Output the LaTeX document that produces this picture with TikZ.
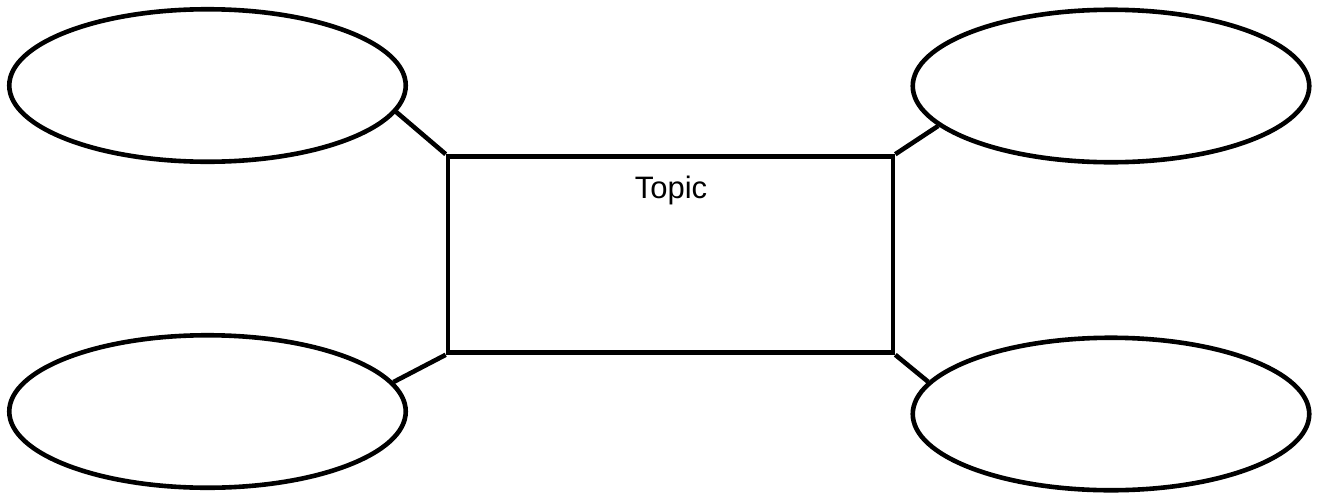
\documentclass[tikz,border=0pt]{standalone}
\usepackage{fontspec}
\setmainfont{Liberation Sans}
\usetikzlibrary{shapes.geometric}
\begin{document}
\begin{tikzpicture}[x=1pt,y=-1pt,
  bubble/.style={draw, ellipse, line width=4.6pt, inner sep=0pt, minimum width=396.5pt, minimum height=152.5pt},
  topicbox/.style={draw, rectangle, line width=4.6pt, inner sep=0pt, minimum width=445pt, minimum height=196pt},
  link/.style={line width=4.6pt},
  lbl/.style={font=\fontsize{31}{36}\selectfont, inner sep=0pt, anchor=base}]
\useasboundingbox (0,0) rectangle (1318,493);
\node[bubble] (tl) at (207.5,85.5) {};
\node[bubble] (tr) at (1111,86) {};
\node[bubble] (bl) at (207.5,411.5) {};
\node[bubble] (br) at (1111,414) {};
\node[topicbox] (topic) at (670.5,254.5) {};
\node[lbl] (topiclabel) at (671,198) {Topic};
\draw[link] (tl.-8) -- (topic.north west);
\draw[link] (tr.193.5) -- (topic.north east);
\draw[link] (bl.9.6) -- (topic.south west);
\draw[link] (br.170) -- (topic.south east);
\end{tikzpicture}
\end{document}
